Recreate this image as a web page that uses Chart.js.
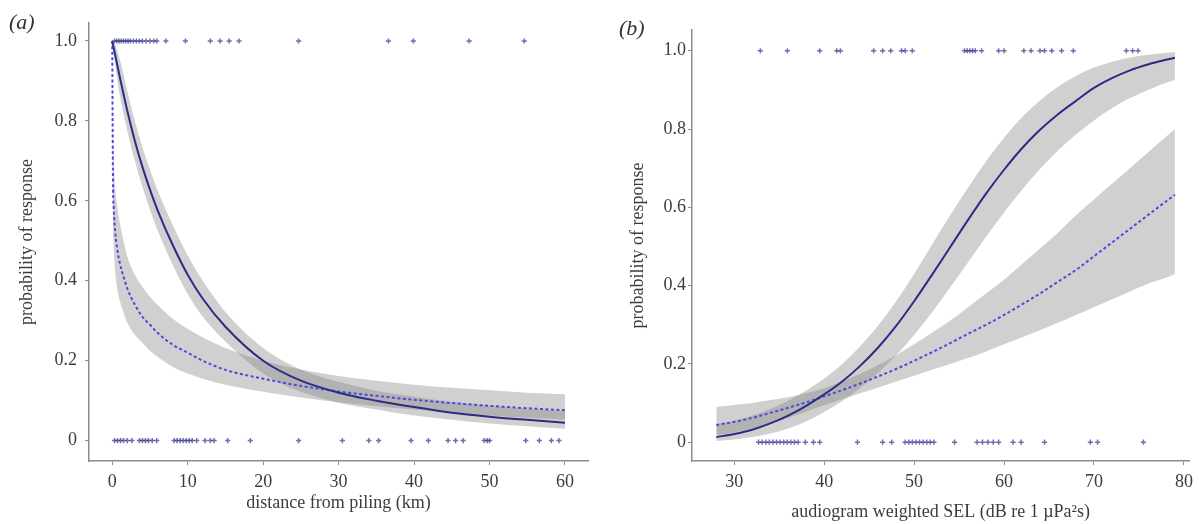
<!DOCTYPE html>
<html>
<head>
<meta charset="utf-8">
<script src="https://cdn.jsdelivr.net/npm/chart.js@4.4.1/dist/chart.umd.min.js"></script>
<style>
  html, body { margin: 0; padding: 0; background: #fff; }
  #wrap { position: relative; width: 1199px; height: 524px; overflow: hidden; }
  canvas { position: absolute; top: 0; }
  .tag { position: absolute; font-family: 'Liberation Serif', 'DejaVu Serif', serif; font-style: italic; font-size: 22px; color: #333; }
</style>
</head>
<body>
<div id="wrap">
  <canvas id="chartA" width="600" height="524" style="left:0"></canvas>
  <canvas id="chartB" width="599" height="524" style="left:600px"></canvas>
  <div class="tag" style="left:9px; top:9px">(a)</div>
  <div class="tag" style="left:619px; top:15px">(b)</div>
</div>
<script>
// ---- panel (a): distance from piling ----
var distSolidX = [0, 0.5, 1, 2, 3, 4, 5, 6, 8, 10, 12, 15, 20, 25, 30, 35, 40, 45, 50, 55, 60];
var solidA     = [1.0, 0.955, 0.91, 0.825, 0.75, 0.685, 0.628, 0.577, 0.49, 0.415, 0.355, 0.285, 0.2, 0.15, 0.12, 0.10, 0.084, 0.07, 0.06, 0.052, 0.045];
var solidAUp   = [1.0, 0.985, 0.955, 0.875, 0.8, 0.735, 0.678, 0.627, 0.54, 0.463, 0.4, 0.322, 0.232, 0.178, 0.147, 0.125, 0.11, 0.097, 0.087, 0.08, 0.074];
var solidALo   = [1.0, 0.925, 0.865, 0.775, 0.7, 0.635, 0.578, 0.527, 0.44, 0.367, 0.31, 0.248, 0.168, 0.122, 0.095, 0.078, 0.063, 0.052, 0.043, 0.036, 0.03];

var distDashX  = [0, 0.05, 0.1, 0.2, 0.4, 0.7, 1, 1.5, 2, 3, 4, 5, 6, 8, 10, 12, 15, 20, 25, 30, 35, 40, 45, 50, 55, 60];
var dashedA    = [1.0, 0.8, 0.65, 0.58, 0.52, 0.475, 0.445, 0.41, 0.38, 0.34, 0.31, 0.29, 0.27, 0.24, 0.22, 0.2, 0.177, 0.155, 0.137, 0.123, 0.112, 0.102, 0.094, 0.087, 0.081, 0.076];
var dashedAUp  = [1.0, 0.9, 0.78, 0.7, 0.63, 0.58, 0.545, 0.5, 0.46, 0.415, 0.385, 0.36, 0.34, 0.305, 0.28, 0.258, 0.232, 0.2, 0.178, 0.162, 0.15, 0.14, 0.132, 0.126, 0.12, 0.116];
var dashedALo  = [1.0, 0.7, 0.55, 0.48, 0.42, 0.375, 0.35, 0.32, 0.295, 0.265, 0.245, 0.225, 0.21, 0.185, 0.168, 0.155, 0.14, 0.122, 0.108, 0.096, 0.086, 0.078, 0.07, 0.063, 0.057, 0.052];

var hitsA1 = [0.3, 0.6, 0.9, 1.2, 1.5, 1.8, 2.1, 2.4, 2.8, 3.2, 3.6, 4.0, 4.5, 5.0, 5.5, 5.9, 7.1, 9.7, 13.0, 14.3, 15.5, 16.8, 24.7, 36.6, 39.9, 47.3, 54.6];
var hitsA0 = [0.3, 0.7, 1.1, 1.5, 2.0, 2.6, 3.6, 4.0, 4.4, 4.8, 5.3, 5.9, 8.2, 8.6, 9.0, 9.4, 9.8, 10.2, 10.6, 11.2,
              12.3, 13.0, 13.5, 15.3, 18.3, 24.7, 30.5, 34.0, 35.3, 39.6, 41.9, 44.5, 45.5, 46.5, 49.3, 49.7, 50.0,
              54.8, 56.6, 58.2, 59.2];
var distTicks = [0, 10, 20, 30, 40, 50, 60];

// ---- panel (b): audiogram weighted SEL ----
var selX      = [28, 30, 32, 34, 36, 38, 40, 42, 44, 46, 48, 50, 52, 54, 56, 58, 60, 62, 64, 66, 68, 70, 72, 74, 76, 78, 79];
var solidB    = [0.013, 0.021, 0.032, 0.048, 0.068, 0.093, 0.122, 0.155, 0.195, 0.242, 0.297, 0.36, 0.428, 0.498, 0.568, 0.635, 0.696, 0.751, 0.798, 0.838, 0.872, 0.905, 0.93, 0.95, 0.965, 0.977, 0.982];
var solidBUp  = [0.045, 0.055, 0.068, 0.085, 0.106, 0.132, 0.163, 0.2, 0.245, 0.298, 0.36, 0.43, 0.505, 0.58, 0.65, 0.718, 0.778, 0.83, 0.873, 0.908, 0.936, 0.957, 0.972, 0.983, 0.99, 0.995, 0.997];
var solidBLo  = [0.003, 0.007, 0.013, 0.022, 0.035, 0.053, 0.077, 0.105, 0.138, 0.177, 0.222, 0.274, 0.332, 0.395, 0.46, 0.525, 0.587, 0.645, 0.698, 0.745, 0.786, 0.822, 0.853, 0.879, 0.9, 0.918, 0.926];
var dashedB   = [0.044, 0.052, 0.062, 0.075, 0.088, 0.102, 0.117, 0.133, 0.15, 0.168, 0.187, 0.208, 0.23, 0.253, 0.277, 0.3, 0.325, 0.352, 0.38, 0.41, 0.44, 0.475, 0.51, 0.545, 0.58, 0.615, 0.632];
var dashedBUp = [0.09, 0.095, 0.1, 0.108, 0.115, 0.125, 0.138, 0.155, 0.175, 0.197, 0.222, 0.25, 0.28, 0.31, 0.345, 0.38, 0.415, 0.455, 0.495, 0.535, 0.58, 0.62, 0.66, 0.7, 0.74, 0.78, 0.8];
var dashedBLo = [0.018, 0.025, 0.035, 0.048, 0.062, 0.078, 0.095, 0.11, 0.125, 0.14, 0.155, 0.17, 0.185, 0.2, 0.215, 0.232, 0.25, 0.268, 0.286, 0.305, 0.325, 0.345, 0.365, 0.385, 0.405, 0.42, 0.43];

var hitsB1 = [32.9, 35.9, 39.5, 41.4, 41.8, 45.5, 46.5, 47.4, 48.6, 49.0, 49.8, 55.6, 55.9, 56.2, 56.5, 56.8, 57.5,
              59.4, 60.0, 62.2, 63.0, 64.0, 64.5, 65.3, 66.4, 67.7, 73.6, 74.3, 74.9];
var hitsB0 = [32.7, 33.1, 33.5, 33.9, 34.3, 34.7, 35.1, 35.5, 35.9, 36.3, 36.7, 37.1, 37.9, 38.8, 39.5, 43.7, 46.5, 47.5,
              49.0, 49.4, 49.8, 50.2, 50.6, 51.0, 51.4, 51.8, 52.2, 54.5, 57.0, 57.6, 58.2, 58.8, 59.4, 61.0, 61.9,
              64.5, 69.6, 70.4, 75.5];
var selTicks = [30, 40, 50, 60, 70, 80];

var probTicks = [0, 0.2, 0.4, 0.6, 0.8, 1.0];

(function () {
  'use strict';

  var AXIS = '#8c8c8c';
  var TEXT = '#3c3c3c';
  var BAND = 'rgba(125,125,125,0.36)';
  var SOLID = '#2c2c86';
  var DASHED = '#4a4ae0';
  var HIT = 'rgba(50,50,140,0.7)';

  Chart.defaults.font.family = "'Liberation Serif', 'DejaVu Serif', serif";
  Chart.defaults.color = TEXT;

  function xy(xs, ys) {
    return xs.map(function (x, i) { return { x: x, y: ys[i] }; });
  }

  function row(xs, yv) {
    return xs.map(function (x) { return { x: x, y: yv }; });
  }

  function hitSet(data) {
    return {
      data: data, showLine: false, pointStyle: 'cross', pointRadius: 2.6,
      pointBorderColor: HIT, pointBorderWidth: 1.5, pointBackgroundColor: HIT
    };
  }

  function lineSet(data, color, dash) {
    return {
      data: data, borderColor: color, borderWidth: 2, borderDash: dash || [],
      pointRadius: 0, cubicInterpolationMode: 'monotone', fill: false
    };
  }

  function bandSet(data, fill) {
    return {
      data: data, borderWidth: 0, borderColor: 'rgba(0,0,0,0)', pointRadius: 0,
      cubicInterpolationMode: 'monotone', backgroundColor: BAND, fill: fill
    };
  }

  function buildPanel(canvasId, p) {
    return new Chart(document.getElementById(canvasId), {
      type: 'line',
      data: {
        datasets: [
          hitSet(row(p.hits1, 1)),
          hitSet(row(p.hits0, 0)),
          lineSet(xy(p.sx, p.solid), SOLID),
          lineSet(xy(p.dx, p.dashed), DASHED, [3, 2.5]),
          bandSet(xy(p.sx, p.solidUp), '+1'),
          bandSet(xy(p.sx, p.solidLo), false),
          bandSet(xy(p.dx, p.dashedUp), '+1'),
          bandSet(xy(p.dx, p.dashedLo), false)
        ]
      },
      options: {
        responsive: false,
        animation: false,
        layout: { padding: { top: p.top, right: p.right, left: 0, bottom: 0 } },
        plugins: { legend: { display: false }, tooltip: { enabled: false } },
        scales: {
          x: {
            type: 'linear', min: p.xmin, max: p.xmax,
            afterBuildTicks: function (s) { s.ticks = p.xticks.map(function (v) { return { value: v }; }); },
            afterFit: function (s) { s.height = 63; },
            grid: { display: true, drawOnChartArea: false, drawTicks: true, tickLength: 4, color: AXIS },
            border: { display: true, color: AXIS, width: 1.5 },
            ticks: { font: { size: 18 }, color: TEXT, padding: 6, maxRotation: 0 },
            title: { display: true, text: p.xtitle, font: { size: 18 }, color: TEXT, padding: { top: 0, bottom: p.xtitlePad } }
          },
          y: {
            min: p.ymin, max: p.ymax,
            afterBuildTicks: function (s) { s.ticks = probTicks.map(function (v) { return { value: v }; }); },
            afterFit: function (s) { s.width = p.axisLeft; },
            grid: { display: true, drawOnChartArea: false, drawTicks: true, tickLength: 4, color: AXIS },
            border: { display: true, color: AXIS, width: 1.5 },
            ticks: {
              font: { size: 18 }, color: TEXT, padding: p.ytickPad,
              callback: function (v) { return v === 0 ? '0' : v.toFixed(1); }
            },
            title: { display: true, text: 'probability of response', font: { size: 18 }, color: TEXT, padding: { top: p.ytitlePad, bottom: 0 } }
          }
        }
      }
    });
  }

  buildPanel('chartA', {
    hits1: hitsA1, hits0: hitsA0,
    sx: distSolidX, solid: solidA, solidUp: solidAUp, solidLo: solidALo,
    dx: distDashX, dashed: dashedA, dashedUp: dashedAUp, dashedLo: dashedALo,
    xmin: -3.08, xmax: 63.05, ymin: -0.051, ymax: 1.045, xticks: distTicks,
    xtitle: 'distance from piling (km)', xtitlePad: 10,
    top: 23, right: 12, axisLeft: 89, ytickPad: 8, ytitlePad: 16
  });

  buildPanel('chartB', {
    hits1: hitsB1, hits0: hitsB0,
    sx: selX, solid: solidB, solidUp: solidBUp, solidLo: solidBLo,
    dx: selX, dashed: dashedB, dashedUp: dashedBUp, dashedLo: dashedBLo,
    xmin: 25.3, xmax: 80.6, ymin: -0.048, ymax: 1.053, xticks: selTicks,
    xtitle: 'audiogram weighted SEL (dB re 1 \u00b5Pa\u00b2s)', xtitlePad: 1,
    top: 30, right: 9, axisLeft: 92, ytickPad: 2, ytitlePad: 27
  });
})();
</script>
</body>
</html>
